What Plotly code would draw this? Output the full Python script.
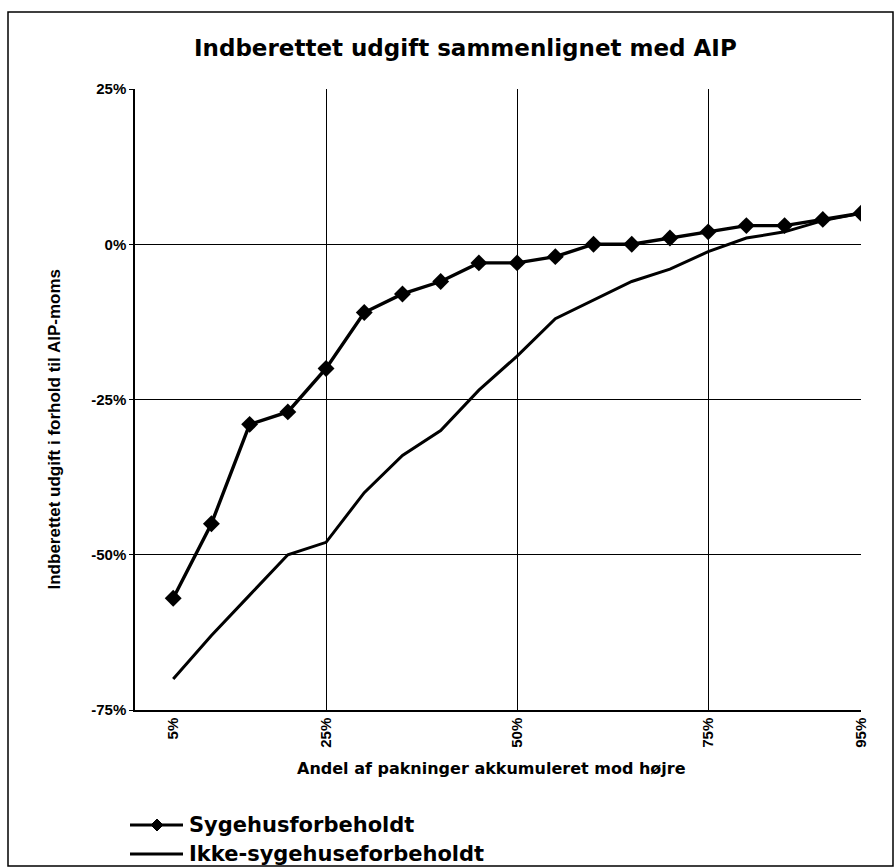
import plotly.graph_objects as go

# Data
andel = [5, 10, 15, 20, 25, 30, 35, 40, 45, 50, 55, 60, 65, 70, 75, 80, 85, 90, 95]
sygehus = [-57, -45, -29, -27, -20, -11, -8, -6, -3, -3, -2, 0, 0, 1, 2, 3, 3, 4, 5]
ikke_sygehus = [-70, -63, -56.5, -50, -48, -40, -34, -30, -23.5, -18, -12, -9, -6, -4, -1.2, 1, 2, 3.8, 5]
series_names = ["Sygehusforbeholdt", "Ikke-sygehuseforbeholdt"]
x_ticks = [5, 25, 50, 75, 95]
x_ticktext = ["5%", "25%", "50%", "75%", "95%"]
x_grid = [25, 50, 75]
y_ticks = [-75, -50, -25, 0, 25]
y_ticktext = ["-75%", "-50%", "-25%", "0%", "25%"]

W, H = 895, 868
ML, MR, MT, MB = 135, 34, 89, 158
PW, PH = W - ML - MR, H - MT - MB


def px2paper(px, py):
    return (px - ML) / PW, (H - MB - py) / PH


fig = go.Figure()
fig.add_trace(go.Scatter(
    x=andel, y=sygehus, name=series_names[0], mode="lines+markers",
    line=dict(color="black", width=3.4),
    marker=dict(symbol="diamond", size=13, color="black"),
    showlegend=False,
))
fig.add_trace(go.Scatter(
    x=andel, y=ikke_sygehus, name=series_names[1], mode="lines",
    line=dict(color="black", width=3),
    showlegend=False,
))

fig.update_layout(
    width=W, height=H,
    margin=dict(l=ML, r=MR, t=MT, b=MB),
    paper_bgcolor="white", plot_bgcolor="white",
    font=dict(family="Liberation Sans, Arial, sans-serif", color="black"),
    showlegend=False,
)

fig.update_xaxes(
    range=[0, 95], tickvals=x_ticks, ticktext=x_ticktext, tickangle=-90,
    showgrid=False, zeroline=False,
    showline=True, linecolor="black", linewidth=1.5,
    tickfont=dict(family="Liberation Sans, Arial, sans-serif", size=15, weight="bold"),
    minor=dict(tickvals=x_grid, showgrid=True, gridcolor="black", gridwidth=1, ticks=""),
    ticks="", fixedrange=True,
)
fig.update_yaxes(
    range=[-75, 25], tickvals=y_ticks, ticktext=y_ticktext,
    showgrid=True, gridcolor="black", gridwidth=1,
    zeroline=True, zerolinecolor="black", zerolinewidth=1,
    showline=True, linecolor="black", linewidth=1.5,
    ticks="outside", ticklen=4, tickcolor="black",
    tickfont=dict(family="Liberation Sans, Arial, sans-serif", size=15, weight="bold"),
    fixedrange=True,
)

# Chart title
tx, ty = px2paper(465, 33)
fig.add_annotation(
    text="Indberettet udgift sammenlignet med AIP",
    xref="paper", yref="paper", x=tx, y=ty, showarrow=False,
    font=dict(family="DejaVu Sans, Verdana, sans-serif", size=23, weight="bold", color="black"),
)
# Y axis title
tx, ty = px2paper(42, 430)
fig.add_annotation(
    text="Indberettet udgift i forhold til AIP-moms",
    xref="paper", yref="paper", x=tx, y=ty, showarrow=False, textangle=-90,
    font=dict(family="Liberation Sans, Arial, sans-serif", size=17, weight="bold", color="black"),
)
# X axis title
tx, ty = px2paper(491, 780)
fig.add_annotation(
    text="Andel af pakninger akkumuleret mod højre",
    xref="paper", yref="paper", x=tx, y=ty, showarrow=False,
    font=dict(family="DejaVu Sans, Verdana, sans-serif", size=16, weight="bold", color="black"),
)

# Legend (drawn manually to keep the plot area fixed)
legend_rows = [825, 854]
for i, (name, row) in enumerate(zip(series_names, legend_rows)):
    x0, yy = px2paper(130, row)
    x1, _ = px2paper(183, row)
    fig.add_shape(type="line", xref="paper", yref="paper", x0=x0, x1=x1, y0=yy, y1=yy,
                  line=dict(color="black", width=3))
    if i == 0:
        cx, cy = px2paper(157, row)
        dx, dy = 6 / PW, 6 / PH
        fig.add_shape(type="path", xref="paper", yref="paper",
                      path=f"M {cx - dx} {cy} L {cx} {cy + dy} L {cx + dx} {cy} L {cx} {cy - dy} Z",
                      fillcolor="black", line=dict(color="black", width=1))
    lx, _ = px2paper(187, row)
    fig.add_annotation(
        text=name, xref="paper", yref="paper", x=lx, y=yy, xanchor="left", yanchor="middle",
        showarrow=False,
        font=dict(family="DejaVu Sans, Verdana, sans-serif", size=21, weight="bold", color="black"),
    )

# Chart frame
fx0, fy0 = px2paper(8, 866)
fx1, fy1 = px2paper(893, 12)
fig.add_shape(type="rect", xref="paper", yref="paper",
              x0=fx0, x1=fx1, y0=fy0, y1=fy1,
              line=dict(color="black", width=1.5), fillcolor="rgba(0,0,0,0)")

fig.write_html("out.html")
